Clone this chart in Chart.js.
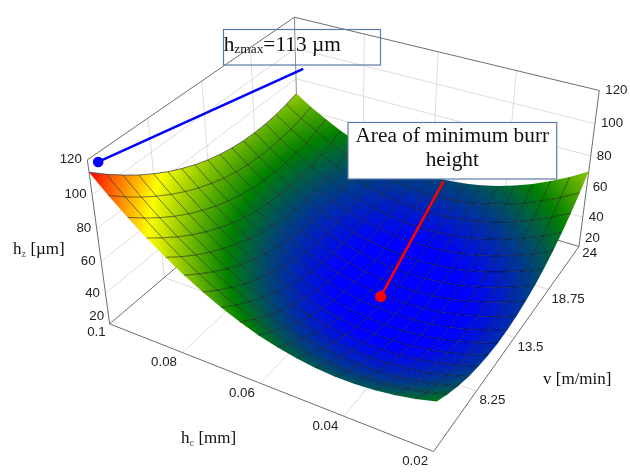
<!DOCTYPE html>
<html>
<head>
<meta charset="utf-8">
<style>
  html, body { margin: 0; padding: 0; background: #fff; }
  canvas { display: block; }
</style>
<script src="https://cdn.jsdelivr.net/npm/chart.js@4"></script>
</head>
<body>
<canvas id="chart" width="630" height="472"></canvas>
<script>
// grid nodes of the surface
const hcNodes = [0.02, 0.0244, 0.0289, 0.0333, 0.0378, 0.0422, 0.0467, 0.0511, 0.0556, 0.06, 0.0644, 0.0689, 0.0733, 0.0778, 0.0822, 0.0867, 0.0911, 0.0956, 0.1];
const vNodes = [3, 4.3125, 5.625, 6.9375, 8.25, 9.5625, 10.875, 12.1875, 13.5, 14.8125, 16.125, 17.4375, 18.75, 20.0625, 21.375, 22.6875, 24];

// burr height, one row per hc node, one column per v node
const hzValues = [
  [50.0, 45.2, 41.1, 37.9, 35.5, 33.9, 33.1, 33.2, 34.0, 35.7, 38.1, 41.4, 45.5, 50.4, 56.1, 62.7, 70.0],
  [46.9, 41.9, 37.7, 34.3, 31.7, 30.0, 29.0, 28.8, 29.4, 30.9, 33.1, 36.2, 40.0, 44.6, 50.1, 56.3, 63.4],
  [44.6, 39.4, 35.1, 31.5, 28.8, 26.8, 25.6, 25.3, 25.7, 26.9, 28.9, 31.7, 35.3, 39.7, 44.8, 50.8, 57.6],
  [43.0, 37.7, 33.2, 29.5, 26.6, 24.4, 23.0, 22.5, 22.7, 23.7, 25.4, 28.0, 31.3, 35.4, 40.3, 46.0, 52.5],
  [42.2, 36.8, 32.1, 28.3, 25.1, 22.8, 21.2, 20.5, 20.4, 21.2, 22.7, 25.1, 28.1, 32.0, 36.6, 42.0, 48.2],
  [42.2, 36.6, 31.8, 27.8, 24.5, 22.0, 20.2, 19.2, 19.0, 19.5, 20.8, 22.9, 25.7, 29.3, 33.7, 38.8, 44.7],
  [43.0, 37.3, 32.3, 28.1, 24.6, 21.9, 20.0, 18.8, 18.3, 18.7, 19.7, 21.5, 24.1, 27.5, 31.6, 36.4, 42.0],
  [44.6, 38.7, 33.6, 29.2, 25.5, 22.6, 20.5, 19.1, 18.4, 18.5, 19.4, 21.0, 23.3, 26.4, 30.2, 34.7, 40.1],
  [46.9, 40.9, 35.6, 31.0, 27.2, 24.2, 21.8, 20.2, 19.3, 19.2, 19.8, 21.2, 23.2, 26.0, 29.6, 33.9, 38.9],
  [50.0, 43.8, 38.4, 33.7, 29.7, 26.4, 23.9, 22.1, 21.0, 20.6, 21.0, 22.1, 23.9, 26.5, 29.8, 33.8, 38.5],
  [53.9, 47.6, 42.0, 37.1, 32.9, 29.5, 26.8, 24.7, 23.4, 22.9, 23.0, 23.9, 25.4, 27.7, 30.7, 34.5, 38.9],
  [58.6, 52.1, 46.3, 41.3, 37.0, 33.3, 30.4, 28.2, 26.7, 25.9, 25.8, 26.4, 27.7, 29.7, 32.5, 35.9, 40.1],
  [64.0, 57.4, 51.5, 46.3, 41.8, 37.9, 34.8, 32.4, 30.7, 29.6, 29.3, 29.7, 30.8, 32.5, 35.0, 38.1, 42.0],
  [70.2, 63.5, 57.4, 52.0, 47.3, 43.3, 40.0, 37.4, 35.4, 34.2, 33.6, 33.8, 34.6, 36.1, 38.3, 41.2, 44.7],
  [77.2, 70.3, 64.1, 58.6, 53.7, 49.5, 46.0, 43.2, 41.0, 39.5, 38.7, 38.6, 39.2, 40.4, 42.3, 44.9, 48.2],
  [85.0, 78.0, 71.6, 65.9, 60.8, 56.4, 52.7, 49.7, 47.3, 45.6, 44.6, 44.3, 44.6, 45.5, 47.2, 49.5, 52.5],
  [93.6, 86.4, 79.8, 73.9, 68.7, 64.2, 60.3, 57.0, 54.4, 52.5, 51.3, 50.7, 50.7, 51.4, 52.8, 54.9, 57.6],
  [102.9, 95.5, 88.8, 82.8, 77.4, 72.7, 68.6, 65.1, 62.3, 60.2, 58.7, 57.9, 57.7, 58.1, 59.2, 61.0, 63.4],
  [113.0, 105.5, 98.7, 92.4, 86.9, 81.9, 77.7, 74.0, 71.0, 68.6, 66.9, 65.8, 65.4, 65.6, 66.4, 67.9, 70.0]
];

// axis ticks
const hcTicks = [0.08, 0.06, 0.04, 0.02];
const vTicks = [8.25, 13.5, 18.75];
const hzTicks = [20, 40, 60, 80, 100, 120];

// colour scale
const colorLevels = [23, 52, 84, 113];
const colorRamp = [[0, 0, 255], [0, 128, 0], [255, 255, 0], [255, 0, 0]];

// callout targets [hc, v, hz]
const maxPoint = [0.1, 3.8, 115];
const minPoint = [0.0526, 13.25, 19];

// plot box corners in the picture, in the order (hcMin,vMin) (hcMax,vMin) (hcMax,vMax) (hcMin,vMax)
const floorCorners = [[435.7, 456.7], [106, 326], [298, 162], [583.7, 246.7]];
const topCorners = [[447, 276], [83.3, 158], [294, 12], [604.3, 87]];
const heightBend = 0.923; // perspective along the hz axis

function quadMap(q) {
  const dx1 = q[1][0] - q[2][0], dx2 = q[3][0] - q[2][0], sx = q[0][0] - q[1][0] + q[2][0] - q[3][0];
  const dy1 = q[1][1] - q[2][1], dy2 = q[3][1] - q[2][1], sy = q[0][1] - q[1][1] + q[2][1] - q[3][1];
  const den = dx1 * dy2 - dx2 * dy1;
  const g = (sx * dy2 - dx2 * sy) / den, h = (dx1 * sy - sx * dy1) / den;
  const a = q[1][0] - q[0][0] + g * q[1][0], b = q[3][0] - q[0][0] + h * q[3][0];
  const d = q[1][1] - q[0][1] + g * q[1][1], e = q[3][1] - q[0][1] + h * q[3][1];
  return function (u, w) {
    const n = g * u + h * w + 1;
    return [(a * u + b * w + q[0][0]) / n, (d * u + e * w + q[0][1]) / n];
  };
}
const floorMap = quadMap(floorCorners), topMap = quadMap(topCorners);

function project(hc, v, hz) {
  const u = (hc - 0.02) / 0.08, w = (v - 3) / 21, z = (hz - 20) / 100;
  const t = z * heightBend / (1 + (heightBend - 1) * z);
  const f = floorMap(u, w), c = topMap(u, w);
  return { x: f[0] + (c[0] - f[0]) * t, y: f[1] + (c[1] - f[1]) * t };
}

function rampColor(hz) {
  const last = colorLevels.length - 1;
  if (hz <= colorLevels[0]) return 'rgb(' + colorRamp[0].join(',') + ')';
  if (hz >= colorLevels[last]) return 'rgb(' + colorRamp[last].join(',') + ')';
  let i = 0;
  while (hz > colorLevels[i + 1]) i++;
  const t = (hz - colorLevels[i]) / (colorLevels[i + 1] - colorLevels[i]);
  const c = colorRamp[i].map(function (a, k) { return Math.round(a + (colorRamp[i + 1][k] - a) * t); });
  return 'rgb(' + c.join(',') + ')';
}

// linear gradient across one mesh cell, following the slope of hz in the picture
function cellFill(chart, pts, zs) {
  const sx = chart.scales.x, sy = chart.scales.y;
  const px = pts.map(function (p) { return [sx.getPixelForValue(p.x), sy.getPixelForValue(p.y)]; });
  const ax = (px[1][0] + px[2][0] - px[0][0] - px[3][0]) / 2, ay = (px[1][1] + px[2][1] - px[0][1] - px[3][1]) / 2;
  const bx = (px[3][0] + px[2][0] - px[0][0] - px[1][0]) / 2, by = (px[3][1] + px[2][1] - px[0][1] - px[1][1]) / 2;
  const da = (zs[1] + zs[2] - zs[0] - zs[3]) / 2, db = (zs[3] + zs[2] - zs[0] - zs[1]) / 2;
  const det = ax * by - ay * bx;
  const gx = (da * by - db * ay) / det, gy = (ax * db - bx * da) / det;
  const g2 = gx * gx + gy * gy;
  const zc = (zs[0] + zs[1] + zs[2] + zs[3]) / 4;
  // the scales have no size yet on the first pass, or the slope is flat
  if (!isFinite(g2) || g2 < 1e-6) return rampColor(zc);
  const cx = (px[0][0] + px[1][0] + px[2][0] + px[3][0]) / 4, cy = (px[0][1] + px[1][1] + px[2][1] + px[3][1]) / 4;
  const lo = Math.min.apply(null, zs), hi = Math.max.apply(null, zs);
  const grad = chart.ctx.createLinearGradient(
    cx + gx * (lo - zc) / g2, cy + gy * (lo - zc) / g2,
    cx + gx * (hi - zc) / g2, cy + gy * (hi - zc) / g2);
  grad.addColorStop(0, rampColor(lo));
  colorLevels.forEach(function (l) {
    if (l > lo && l < hi) grad.addColorStop((l - lo) / (hi - lo), rampColor(l));
  });
  grad.addColorStop(1, rampColor(hi));
  return grad;
}

const datasets = [];
function addLine(points, color, width) {
  datasets.push({ data: points, showLine: true, borderColor: color, borderWidth: width, pointRadius: 0, tension: 0, fill: false });
}

const hcMin = hcNodes[0], hcMax = hcNodes[hcNodes.length - 1];
const vMin = vNodes[0], vMax = vNodes[vNodes.length - 1];
const hzMin = hzTicks[0], hzMax = hzTicks[hzTicks.length - 1];
const gridColor = '#dcdcdc', frameColor = '#6e6e6e';

// back walls and floor
hzTicks.slice(1, -1).forEach(function (z) {
  addLine([project(hcMax, vMin, z), project(hcMax, vMax, z)], gridColor, 1);
  addLine([project(hcMax, vMax, z), project(hcMin, vMax, z)], gridColor, 1);
});
vTicks.forEach(function (v) {
  addLine([project(hcMax, v, hzMax), project(hcMax, v, hzMin), project(hcMin, v, hzMin)], gridColor, 1);
});
hcTicks.slice(0, -1).forEach(function (h) {
  addLine([project(h, vMax, hzMax), project(h, vMax, hzMin), project(h, vMin, hzMin)], gridColor, 1);
});
addLine([project(hcMax, vMax, hzMin), project(hcMax, vMax, hzMax)], '#8c8c8c', 1);
addLine([project(hcMax, vMin, hzMin), project(hcMax, vMax, hzMin), project(hcMin, vMax, hzMin)], frameColor, 1);
addLine([project(hcMax, vMin, hzMin), project(hcMin, vMin, hzMin), project(hcMin, vMax, hzMin)], frameColor, 1);
addLine([project(hcMax, vMin, hzMin), project(hcMax, vMin, hzMax), project(hcMax, vMax, hzMax), project(hcMin, vMax, hzMax), project(hcMin, vMax, hzMin)], frameColor, 1);

// surface cells
for (let i = 0; i < hcNodes.length - 1; i++) {
  for (let j = 0; j < vNodes.length - 1; j++) {
    const zs = [hzValues[i][j], hzValues[i + 1][j], hzValues[i + 1][j + 1], hzValues[i][j + 1]];
    const pts = [
      project(hcNodes[i], vNodes[j], zs[0]), project(hcNodes[i + 1], vNodes[j], zs[1]),
      project(hcNodes[i + 1], vNodes[j + 1], zs[2]), project(hcNodes[i], vNodes[j + 1], zs[3])
    ];
    datasets.push({
      data: pts.concat([pts[0]]), showLine: true, pointRadius: 0, tension: 0, borderWidth: 0, fill: 'shape',
      backgroundColor: function (ctx) { return cellFill(ctx.chart, pts, zs); }
    });
  }
}

// mesh lines
const meshColor = 'rgba(0,0,0,0.65)';
hcNodes.forEach(function (h, i) {
  if (i == 0) return;
  addLine(vNodes.map(function (v, j) { return project(h, v, hzValues[i][j]); }), i == hcNodes.length - 1 ? '#4a4a4a' : meshColor, 0.8);
});
vNodes.forEach(function (v, j) {
  if (j == 0 || j == vNodes.length - 1) return;
  addLine(hcNodes.map(function (h, i) { return project(h, v, hzValues[i][j]); }), meshColor, 0.8);
});

// callouts
const maxXY = project(maxPoint[0], maxPoint[1], maxPoint[2]);
const minXY = project(minPoint[0], minPoint[1], minPoint[2]);
addLine([maxXY, { x: 303, y: 65 }], '#0000ff', 2.5);
addLine([minXY, { x: 445.7, y: 180 }], '#ff0000', 2.5);
datasets.push({ data: [maxXY], pointRadius: 5.3, backgroundColor: '#0000ff', borderWidth: 0, showLine: false });
datasets.push({ data: [minXY], pointRadius: 5.5, backgroundColor: '#ff0000', borderWidth: 0, showLine: false });

// painter's order: later in the list goes on top
datasets.forEach(function (d, i) { d.order = datasets.length - i; });

function drawRuns(ctx, x, y, runs) {
  ctx.textAlign = 'left';
  ctx.textBaseline = 'alphabetic';
  runs.forEach(function (r) {
    ctx.font = r.size + 'px "Liberation Serif"';
    ctx.fillStyle = r.color || '#111';
    ctx.fillText(r.text, x, y + (r.dy || 0));
    x += ctx.measureText(r.text).width;
  });
}

const textPlugin = {
  id: 'textPlugin',
  afterDatasetsDraw: function (chart) {
    const ctx = chart.ctx, sx = chart.scales.x, sy = chart.scales.y;
    function at(p) { return { x: sx.getPixelForValue(p.x), y: sy.getPixelForValue(p.y) }; }
    function label(text, x, y, align) {
      ctx.textAlign = align;
      ctx.fillText(text, x, y);
    }
    ctx.save();
    ctx.font = '13.3px "Liberation Sans"';
    ctx.fillStyle = '#222';
    ctx.textBaseline = 'middle';
    hzTicks.forEach(function (z) {
      const shift = z == hzMin ? -8 : 0;
      const l = at(project(hcMax, vMin, z)), r = at(project(hcMin, vMax, z));
      label(String(z), l.x - 5.5, l.y + shift, 'right');
      label(String(z), r.x + 6, r.y + shift, 'left');
    });
    hcTicks.forEach(function (h) {
      const p = at(project(h, vMin, hzMin));
      label(String(h), p.x - 18.5, p.y + 10, 'center');
    });
    vTicks.forEach(function (v) {
      const p = at(project(hcMin, v, hzMin));
      label(String(v), p.x + 3, p.y + 9.5, 'left');
    });
    const a = at(project(hcMax, vMin, hzMin)), c = at(project(hcMin, vMax, hzMin));
    label(String(hcMax), a.x - 4, a.y + 8, 'right');
    label(String(vMax), c.x + 3.3, c.y + 7, 'left');

    drawRuns(ctx, 13, 254, [{ text: 'h', size: 17 }, { text: 'z', size: 10.5, dy: 2.5, color: '#556' }, { text: ' [\u00b5m]', size: 17 }]);
    drawRuns(ctx, 181, 443, [{ text: 'h', size: 17 }, { text: 'c', size: 10.5, dy: 2.5, color: '#556' }, { text: ' [mm]', size: 17 }]);
    drawRuns(ctx, 543, 384, [{ text: 'v [m/min]', size: 17 }]);

    ctx.strokeStyle = '#5b7bb0';
    ctx.lineWidth = 1.2;
    ctx.strokeRect(223.5, 29.5, 157, 35.5);
    drawRuns(ctx, 223.7, 50.7, [{ text: 'h', size: 21.33 }, { text: 'zmax', size: 13.4, dy: 2 }, { text: '=113 \u00b5m', size: 21.33 }]);

    ctx.fillStyle = '#fff';
    ctx.fillRect(348, 122.5, 208.7, 56.5);
    ctx.strokeRect(348, 122.5, 208.7, 56.5);
    ctx.fillStyle = '#111';
    ctx.font = '21.33px "Liberation Serif"';
    ctx.textAlign = 'center';
    ctx.textBaseline = 'alphabetic';
    ctx.fillText('Area of minimum burr', 452.3, 141.7);
    ctx.fillText('height', 452.3, 166);
    ctx.restore();
  }
};

new Chart(document.getElementById('chart'), {
  type: 'scatter',
  data: { datasets: datasets },
  plugins: [textPlugin],
  options: {
    responsive: false,
    animation: false,
    events: [],
    layout: { padding: 0 },
    plugins: { legend: { display: false }, tooltip: { enabled: false }, title: { display: false } },
    scales: {
      x: { type: 'linear', min: 0, max: 630, display: false },
      y: { type: 'linear', min: 0, max: 472, reverse: true, display: false }
    }
  }
});
</script>
</body>
</html>
